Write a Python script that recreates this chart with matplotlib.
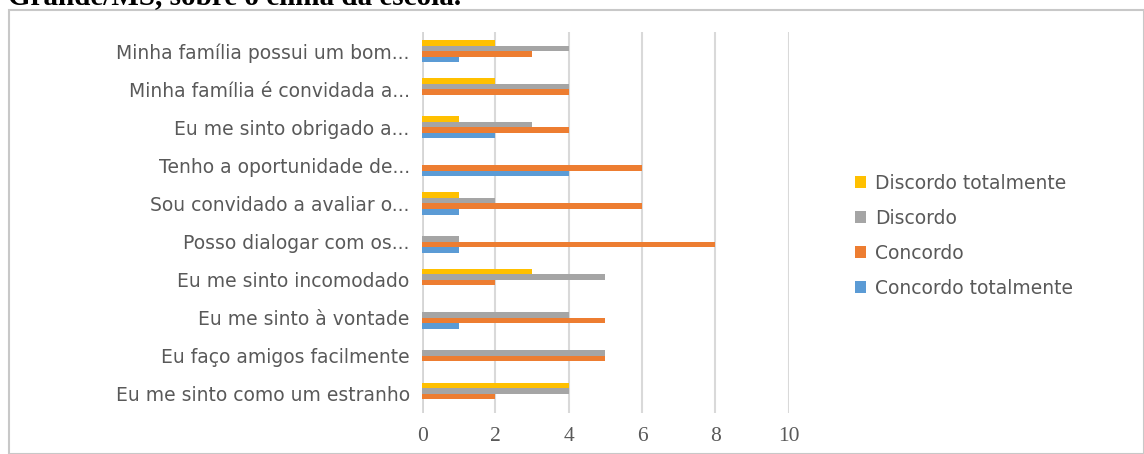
import matplotlib.pyplot as plt
import numpy as np
from matplotlib.patches import Rectangle

# categorias (de baixo para cima)
categorias = ["Eu me sinto como um estranho", "Eu faço amigos facilmente",
              "Eu me sinto à vontade", "Eu me sinto incomodado",
              "Posso dialogar com os...", "Sou convidado a avaliar o...",
              "Tenho a oportunidade de...", "Eu me sinto obrigado a...",
              "Minha família é convidada a...", "Minha família possui um bom..."]

concordo_totalmente = [0, 0, 1, 0, 1, 1, 4, 2, 0, 1]
concordo = [2, 5, 5, 2, 8, 6, 6, 4, 4, 3]
discordo = [4, 5, 4, 5, 1, 2, 0, 3, 4, 4]
discordo_totalmente = [4, 0, 0, 3, 0, 1, 0, 1, 2, 2]

series = [("Concordo totalmente", concordo_totalmente, "#5b9bd5"),
          ("Concordo", concordo, "#ed7d31"),
          ("Discordo", discordo, "#a5a5a5"),
          ("Discordo totalmente", discordo_totalmente, "#ffc000")]

fig = plt.figure(figsize=(11.44, 4.54), dpi=100)
ax = fig.add_axes([0.369, 0.0903, 0.3205, 0.8392])

y = np.arange(len(categorias))
h = 0.145
for i, (nome, vals, cor) in enumerate(series):
    ax.barh(y + (i - 1.5) * h, vals, height=h, color=cor, label=nome, zorder=3)

ax.set_xlim(0, 10)
ax.set_ylim(-0.5, 9.5)
ax.set_xticks(range(0, 11, 2))
ax.set_xticklabels([str(v) for v in range(0, 11, 2)], family='Liberation Serif', fontsize=15.5)
ax.set_yticks(y)
ax.set_yticklabels(categorias, fontsize=13.5)
ax.grid(axis='x', color='#d9d9d9', linewidth=1.5, zorder=0)
for s in ax.spines.values():
    s.set_visible(False)
ax.axvline(0, color='#d0d0d0', linewidth=2, zorder=1)
ax.tick_params(axis='both', length=0, colors='#595959')
ax.tick_params(axis='y', pad=9)
ax.tick_params(axis='x', pad=10)

handles, labels = ax.get_legend_handles_labels()
ax.legend(handles[::-1], labels[::-1], loc='center left', bbox_to_anchor=(1.18, 0.465),
          frameon=False, fontsize=13.5, labelcolor='#595959', handlelength=0.6,
          handleheight=0.6, handletextpad=0.5, labelspacing=0.85,
          borderpad=0, borderaxespad=0)

fig.patches.append(Rectangle((0.008, 0.0), 0.992, 0.978, transform=fig.transFigure,
                             fill=False, edgecolor='#c8c8c8', linewidth=1.5))
fig.text(0.007, 0.991, "Grande/MS, sobre o clima da escola.", family='Liberation Serif',
         weight='bold', fontsize=21, va='baseline', ha='left')

fig.savefig("out.png", dpi=100)
